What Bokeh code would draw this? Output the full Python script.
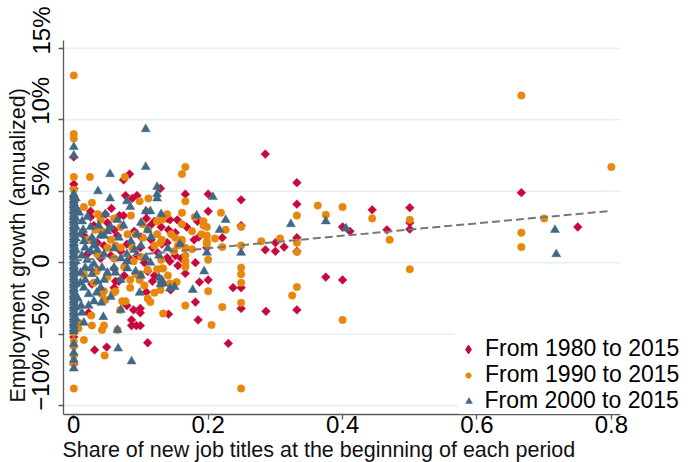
import math
from bokeh.plotting import figure
from bokeh.layouts import column
from bokeh.models import (ColumnDataSource, FixedTicker, Label, Legend, LegendItem, Range1d,
                          LinearAxis, Title)
from bokeh.embed import file_html
from bokeh.resources import INLINE

FONT = "Liberation Sans"

x_ticks = [0, 0.2, 0.4, 0.6, 0.8]
x_tick_labels = ["0", "0.2", "0.4", "0.6", "0.8"]
y_ticks = [-10, -5, 0, 5, 10, 15]
y_tick_labels = ["\u221210%", "\u22125%", "0", "5%", "10%", "15%"]

series_names = ["From 1980 to 2015", "From 1990 to 2015", "From 2000 to 2015"]

# (share of new titles, annualized employment growth in %)
pts_1980 = [
    (0, 7.4), (0, 5.5), (0, 5.2), (0, 4.6), (0, 4.2), (0, 3.9), (0, 3.5), (0, 3.1), (0, 2.8), (0, 2.4),
    (0, 2.0), (0, 1.6), (0, 1.2), (0, 0.8), (0, 0.4), (0, 0.0), (0, -0.4), (0, -0.8), (0, -1.2), (0, -1.6),
    (0, -2.0), (0, -2.4), (0, -2.8), (0, -3.2), (0, -3.6), (0, -4.0), (0, -4.4), (0, -4.8), (0, -5.2), (0, -7.1),
    (.083, 6.2), (.074, 5.8), (.077, 4.7), (.094, 4.7), (.087, 4.5), (.025, 3.6), (.025, 3.2), (.056, 3.8),
    (.047, 3.4), (.068, 3.3), (.074, 3.3), (.108, 3.6), (.108, 3.1), (.139, 3.1), (.114, 2.6), (.06, 2.3),
    (.035, 1.4), (.079, 1.3), (.045, 1.2), (.07, 0.8), (.099, 1.05), (.117, 1.05), (.139, 1.4), (.055, 0.5),
    (.094, 0.5), (.139, 0.35), (.285, 7.6), (.166, 4.8), (.2, 4.8), (.249, 4.4), (.2, 3.6), (.184, 2.9),
    (.143, 3.0), (.154, 3.0), (.168, 2.5), (.141, 2.3), (.151, 2.1), (.186, 1.8), (.179, 1.6), (.198, 1.05),
    (.221, 1.75), (.159, 1.4), (.131, 1.3), (.151, 0.5), (.249, 2.6), (.285, 0.9), (.129, 5.2),
    (.332, 5.6), (.332, 4.1), (.332, 1.75), (.332, 0.8), (.3, 0.8), (.3, 1.4), (.313, 1.1), (.237, -1.75),
    (.249, -1.75), (.181, 0.0), (.4, 2.5), (.411, 2.2), (.444, 3.7), (.466, 2.3), (.5, 3.85), (.5, 2.8),
    (.5, 2.35), (.375, -1.0), (.4, -1.2), (.286, -3.4), (.332, -3.3), (.666, 4.9), (.75, 2.5),
    (.031, -6.1), (.049, -5.9), (.11, -5.6), (.086, -4.4), (.093, -4.4), (.099, -4.4), (.086, -4.0),
    (.099, -3.5), (.099, -3.2), (.089, -3.3), (.079, -3.0), (.022, -3.5), (.041, -1.9), (.108, -2.05),
    (.141, -3.6), (.144, -1.9), (.117, -1.3), (.062, -1.3), (.067, -1.3), (.06, -1.75), (.027, -1.5),
    (.131, -1.4), (.166, -0.75), (.187, -1.35), (.2, -1.2), (.181, -2.75), (.185, -4.0), (.249, -3.2),
    (.23, -5.65), (.143, 0.1), (.155, -0.2), (.16, 0.3),
    (.03, 2.6), (.05, 2.8), (.065, 1.9), (.09, 2.2), (.1, 1.8), (.115, 1.6), (.12, 2.9), (.13, 2.5),
    (.04, 0.3), (.085, 0.2), (.105, 0.0), (.125, 0.7), (.015, 1.9), (.02, 0.6), (.06, -0.4), (.075, -0.9),
    (.11, -0.6), (.12, -0.9), (.035, -0.5),
]

pts_1990 = [
    (0, 13.1), (0, 9.0), (0, 8.7), (0, 6.0), (0, 5.1), (0, 4.4), (0, 3.7), (0, 3.0), (0, 2.2), (0, 1.5),
    (0, 0.7), (0, -0.1), (0, -0.9), (0, -1.7), (0, -2.5), (0, -3.3), (0, -4.1), (0, -4.9), (0, -5.5),
    (0, -5.85), (0, -6.5), (0, -7.0), (0, -8.8),
    (.024, 6.0), (.076, 6.0), (.027, 4.2), (.111, 4.5), (.098, 4.3), (.036, 3.4), (.134, 3.2), (.102, 2.7),
    (.124, 2.9), (.032, 2.3), (.042, 2.2), (.07, 2.5), (.02, 1.6), (.055, 1.6), (.092, 2.0), (.103, 1.75),
    (.124, 2.0), (.05, 1.05), (.062, 1.2), (.07, 1.05), (.087, 1.05), (.129, 1.4),
    (.166, 6.7), (.161, 6.2), (.166, 4.3), (.219, 3.5), (.161, 3.5), (.139, 3.4), (.131, 3.0), (.193, 2.9),
    (.193, 2.6), (.198, 2.5), (.226, 2.3), (.161, 2.7), (.176, 2.2), (.151, 1.75), (.198, 1.9), (.198, 1.5),
    (.198, 1.3), (.161, 1.6), (.166, 1.05), (.131, 1.6), (.149, 0.8), (.176, 0.95), (.221, 1.1), (.249, 1.2),
    (.279, 1.5), (.332, 3.3), (.332, 1.4), (.332, 0.75), (.307, 1.7), (.249, 2.5), (.249, -0.35),
    (.249, -0.8), (.249, -1.4), (.332, -1.7), (.325, -2.3), (.166, 0.5), (.166, 0.1), (.166, -0.3),
    (.363, 4.0), (.375, 3.35), (.4, 3.9), (.444, 3.1), (.47, 1.6), (.5, 3.0), (.5, -0.46), (.4, -4.0),
    (.8, 6.7), (.7, 3.1), (.666, 2.1), (.666, 1.1), (.666, 11.7),
    (.015, -5.4), (.046, -6.5), (.042, -4.7), (.045, -4.4), (.027, -4.4), (.026, -3.7), (.007, -4.6),
    (.007, -4.2), (.072, -2.7), (.077, -2.7), (.069, -3.3), (.065, -4.7), (.047, -2.6), (.042, -2.2),
    (.059, -2.1), (.062, -2.0), (.11, -2.5), (.12, -2.1), (.114, -2.75), (.133, -3.55), (.129, -1.9),
    (.084, -1.2), (.084, -1.75), (.098, -1.2), (.045, -2.0), (.03, -1.4), (.092, -0.8), (.099, -0.8),
    (.11, -0.5), (.124, -0.46), (.131, -0.4), (.089, 0.1), (.034, -0.6), (.2, -2.0), (.153, -1.35),
    (.143, -1.45), (.249, -2.8), (.221, -3.1), (.166, -3.0), (.205, -4.35), (.249, -8.8), (.2, 0.2),
    (.133, -0.4), (.166, -0.2),
    (.015, 3.9), (.04, 3.0), (.06, 3.1), (.08, 2.0), (.085, 3.3), (.11, 2.3), (.12, 1.2), (.035, 0.6),
    (.06, 0.3), (.1, 0.4), (.13, 0.2), (.145, 2.0), (.155, 1.2), (.18, 3.2), (.19, 2.0), (.21, 1.7),
    (.015, -0.8), (.05, -1.0), (.075, -0.3), (.14, -0.9), (.105, -1.6),
]

pts_2000 = [
    (0, 8.1), (0, 7.5), (0, 4.8), (0, 4.6), (0, 4.4), (0, 4.2), (0, 4.0), (0, 3.8), (0, 3.6), (0, 3.4),
    (0, 3.2), (0, 3.0), (0, 2.8), (0, 2.6), (0, 2.4), (0, 2.2), (0, 2.0), (0, 1.8), (0, 1.6), (0, 1.4),
    (0, 1.2), (0, 1.0), (0, 0.8), (0, 0.6), (0, 0.4), (0, 0.2), (0, 0.0), (0, -0.2), (0, -0.4), (0, -0.6),
    (0, -0.8), (0, -1.0), (0, -1.2), (0, -1.4), (0, -1.6), (0, -1.8), (0, -2.0), (0, -2.2), (0, -2.4),
    (0, -2.6), (0, -2.8), (0, -3.0), (0, -3.2), (0, -3.4), (0, -3.6), (0, -3.8), (0, -4.0), (0, -4.2),
    (0, -4.4), (0, -4.6), (0, -4.8), (0, -5.7), (0, -6.3), (0, -6.8), (0, -7.4),
    (.003, 4.5), (.003, 3.9), (.003, 3.1), (.003, 2.5), (.003, 1.7), (.003, 0.9), (.003, 0.1),
    (.003, -0.7), (.003, -1.5), (.003, -2.3), (.003, -3.1), (.003, -3.9),
    (.107, 9.35), (.107, 6.7), (.054, 6.2), (.036, 5.0), (.054, 4.5), (.124, 5.3), (.124, 4.8), (.124, 4.5),
    (.079, 4.3), (.084, 3.9), (.047, 3.4), (.107, 3.6), (.114, 3.6), (.0125, 2.9), (.014, 2.3), (.037, 2.6),
    (.055, 2.5), (.074, 2.6), (.04, 1.9), (.027, 1.75), (.015, 1.5), (.067, 1.75), (.094, 2.0), (.11, 2.3),
    (.025, 0.8), (.045, 0.6), (.079, 0.6), (.107, 0.35), (.127, 0.5), (.03, 1.2), (.017, 1.05),
    (.207, 4.6), (.183, 3.3), (.226, 3.0), (.217, 2.3), (.158, 1.3), (.198, 0.7), (.249, 0.7), (.323, 2.7),
    (.375, 2.9), (.405, 2.4), (.716, 2.3), (.718, 0.6),
    (.066, -6.0), (.086, -6.9), (.065, -4.7), (.044, -3.8), (.011, -3.0), (.022, -3.0), (.03, -2.7),
    (.041, -2.8), (.07, -3.3), (.022, -2.2), (.034, -2.1), (.098, -2.1), (.129, -1.5), (.127, -1.05),
    (.01, -1.4), (.017, -1.2), (.015, -1.75), (.035, -1.3), (.04, -1.75), (.05, -0.7), (.062, -0.7),
    (.07, -1.2), (.01, -0.7), (.027, -0.8), (.092, -0.6), (.131, -1.2), (.114, 0.0), (.079, 0.1),
    (.06, -0.35), (.042, -0.35), (.03, -0.1), (.017, -0.35), (.194, -0.6), (.177, -1.9), (.15, -1.7),
    (.143, -1.8), (.133, -1.45),
    (.008, 3.5), (.01, 2.0), (.012, 0.5), (.02, 3.2), (.02, 0.2), (.025, 2.5), (.03, 1.5), (.035, 0.9),
    (.045, 1.9), (.05, 2.2), (.06, 1.0), (.065, 3.0), (.07, 0.3), (.085, 1.5), (.09, 0.9), (.1, 2.8),
    (.1, 1.2), (.115, 1.8), (.13, 3.4), (.14, 1.0), (.006, -2.5), (.012, -3.5), (.015, -4.2),
    (.025, -0.4), (.045, -1.2), (.055, -2.4), (.08, -0.4), (.1, -0.9),
]

fit_share = [0.0, 0.8]
fit_growth = [0.14, 3.63]

colors = ["#C8083C", "#E8870E", "#406887"]

# ---- layout constants ----
X_LO, X_AXIS_HI, X_VIEW_HI = -0.0153, 0.8135, 0.9311
Y_LO, Y_HI = -10.62, 15.55
FRAME_H = 374
PPU_Y = FRAME_H / (Y_HI - Y_LO)
Y_VIEW_HI = Y_HI + 34 / PPU_Y      # frame reaches the top of the figure; axis line stops at Y_HI
TICK_FS = 24
ADV = {"%": 0.889, "\u2212": 0.584, ".": 0.278}

p = figure(width=699, height=456, output_backend="svg", toolbar_location=None,
           x_range=Range1d(X_LO, X_VIEW_HI), y_range=Range1d(Y_LO, Y_VIEW_HI),
           min_border_left=63, min_border_right=0, min_border_top=0, min_border_bottom=48)
p.background_fill_color = "white"
p.border_fill_color = "white"
p.outline_line_color = None
p.grid.visible = False

# horizontal grid lines, limited to the plot region
p.segment(x0=[X_LO] * len(y_ticks), x1=[X_AXIS_HI] * len(y_ticks), y0=y_ticks, y1=y_ticks,
          line_color="#E6EFF1", line_width=1.6, level="underlay")

for ax in (p.xaxis[0], p.yaxis[0]):
    ax.axis_line_color = "#5a5a5a"
    ax.axis_line_width = 1.3
    ax.major_tick_line_color = "#5a5a5a"
    ax.major_tick_line_width = 1.3
    ax.major_tick_in = 0
    ax.major_tick_out = 5
    ax.minor_tick_line_color = None

p.xaxis.bounds = (X_LO, X_AXIS_HI)
p.xaxis.ticker = FixedTicker(ticks=x_ticks)
p.xaxis.major_label_overrides = dict(zip(x_ticks, x_tick_labels))
p.xaxis.major_label_text_font = FONT
p.xaxis.major_label_text_font_size = f"{TICK_FS}px"
p.xaxis.major_label_text_color = "black"
p.xaxis.major_label_standoff = -4

p.yaxis.bounds = (Y_LO, Y_HI)
p.yaxis.ticker = FixedTicker(ticks=y_ticks)
p.yaxis.major_label_overrides = {t: "" for t in y_ticks}
p.yaxis.major_label_standoff = 0

# vertical tick labels that start at their tick (as in the original), via a label-only axis
def text_len(s):
    return sum(ADV.get(c, 0.556) for c in s) * TICK_FS

shifted = [t + (text_len(s) / 2 - 5) / PPU_Y for t, s in zip(y_ticks, y_tick_labels)]
lab_axis = LinearAxis(ticker=FixedTicker(ticks=shifted),
                      major_label_overrides=dict(zip(shifted, y_tick_labels)),
                      axis_line_color=None, major_tick_line_color=None, minor_tick_line_color=None,
                      major_tick_in=0, major_tick_out=0, major_label_orientation="parallel",
                      major_label_standoff=4, major_label_text_font=FONT,
                      major_label_text_font_size=f"{TICK_FS}px", major_label_text_color="black",
                      bounds=(-30, 30))
p.add_layout(lab_axis, "left")

p.add_layout(Title(text="Employment growth (annualized)", align="left", offset=12,
                   vertical_align="bottom", standoff=-11, text_font=FONT, text_font_size="21.5px",
                   text_font_style="normal", text_color="#111111"), "left")
p.add_layout(Title(text="Share of new job titles at the beginning of each period", align="left",
                   offset=-1, vertical_align="bottom", standoff=1, text_font=FONT,
                   text_font_size="21.5px", text_font_style="normal", text_color="#111111"), "below")

renderers = []
src = ColumnDataSource(dict(x=[a for a, b in pts_1980], y=[b for a, b in pts_1980]))
renderers.append(p.scatter("x", "y", source=src, marker="square", angle=math.pi / 4, size=6.2,
                           fill_color=colors[0], line_color=colors[0], line_width=0.5))
src = ColumnDataSource(dict(x=[a for a, b in pts_1990], y=[b for a, b in pts_1990]))
renderers.append(p.scatter("x", "y", source=src, marker="circle", size=7.5,
                           fill_color=colors[1], line_color=colors[1], line_width=0.5))
src = ColumnDataSource(dict(x=[a for a, b in pts_2000], y=[b for a, b in pts_2000]))
renderers.append(p.scatter("x", "y", source=src, marker="triangle", size=9,
                           fill_color=colors[2], line_color=colors[2], line_width=0.5))

p.line(fit_share, fit_growth, line_color="#777777", line_width=2, line_dash="8 4")

# legend key for the diamond (legend glyphs are not rotated)
key_1980 = p.scatter(x=[float("nan")], y=[float("nan")], marker="diamond", size=8,
                     fill_color=colors[0], line_color=colors[0])
legend_keys = [key_1980, renderers[1], renderers[2]]
legend_glyph_w = [22, 14, 17]
legend_rows = [50, 24, -2]
for name, r, vy, gw in zip(series_names, legend_keys, legend_rows, legend_glyph_w):
    left = 468 - 2 - gw / 2
    lg = Legend(items=[LegendItem(label=name, renderers=[r])], location=(left - 63, vy),
                orientation="vertical", padding=2, margin=0, spacing=0,
                glyph_width=gw, glyph_height=26, label_height=26,
                label_standoff=int(round(485 - left - 2 - gw)),
                label_text_font=FONT, label_text_font_size="23px", label_text_color="black",
                background_fill_color="white", background_fill_alpha=1.0, border_line_alpha=0)
    p.add_layout(lg, "center")

# top strip: the bottom of a blue heading that lies above the page
top = figure(width=699, height=6, output_backend="svg", toolbar_location=None,
             x_range=Range1d(0, 1), y_range=Range1d(0, 1), min_border=0,
             x_axis_type=None, y_axis_type=None)
top.outline_line_color = None
top.background_fill_color = "white"
top.border_fill_color = "white"
top.add_layout(Label(x=87, y=4.5, x_units="screen", y_units="screen", text="Employment",
                     text_align="left", text_baseline="alphabetic", text_font=FONT,
                     text_font_size="30px", text_font_style="bold", text_color="#0000FF"))

open("out.html", "w").write(file_html(column(top, p, spacing=0), INLINE))
